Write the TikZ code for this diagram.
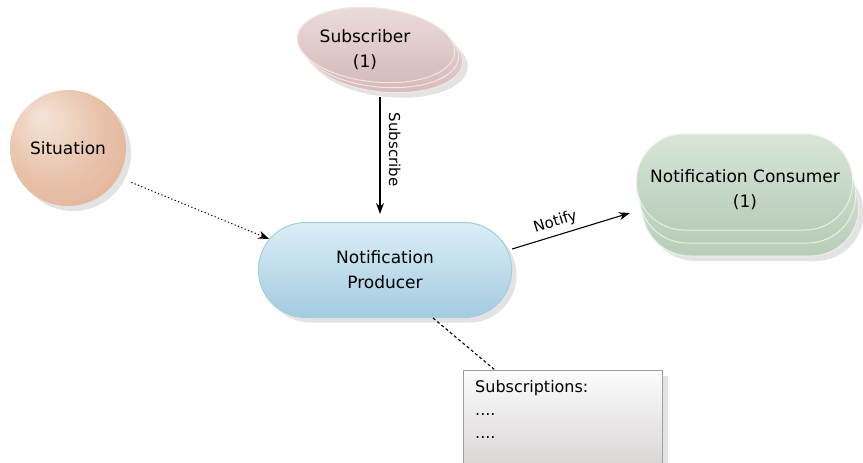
\documentclass[tikz,border=0pt]{standalone}
\usepackage{fontspec}
\setmainfont{DejaVu Sans}
\usetikzlibrary{positioning}
\usetikzlibrary{arrows.meta}
\usetikzlibrary{shapes.misc}
\usetikzlibrary{shadows}

\definecolor{sitlight}{HTML}{F4E4DA}
\definecolor{sitmid}{HTML}{E9C2AA}
\definecolor{sitdark}{HTML}{D9A586}
\definecolor{subtop}{HTML}{ECDCDC}
\definecolor{subbot}{HTML}{D6BABA}
\definecolor{subline}{HTML}{F2E6E6}
\definecolor{contop}{HTML}{D8E6D8}
\definecolor{conbot}{HTML}{B8CDB8}
\definecolor{conline}{HTML}{E8F0E8}
\definecolor{prodtop}{HTML}{DAEEF7}
\definecolor{prodbot}{HTML}{A4CBE0}
\definecolor{prodline}{HTML}{A6CCE0}
\definecolor{memotop}{HTML}{FCFCFC}
\definecolor{memobot}{HTML}{D4D0D0}
\definecolor{memoline}{HTML}{9E9C9C}

\pgfdeclareradialshading{sphereglow}{\pgfpoint{-12bp}{14bp}}{%
color(0bp)=(sitlight); color(22bp)=(sitmid); color(50bp)=(sitdark)}

\tikzset{
every node/.style={font=\fontsize{17}{25}\selectfont, align=center},
softshadow/.style={drop shadow={shadow xshift=5pt, shadow yshift=-5pt,
  opacity=.18, fill=black!60}},
sphere/.style={circle, minimum size=116pt, inner sep=0pt, shading=sphereglow,
  softshadow},
subdisc/.style={top color=subtop, bottom color=subbot, draw=subline,
  line width=1pt},
condisc/.style={rounded rectangle, minimum width=223pt, minimum height=96pt,
  top color=contop, bottom color=conbot, draw=conline, line width=1pt},
pill/.style={rounded rectangle, minimum width=260pt, minimum height=95pt,
  top color=prodtop, bottom color=prodbot, draw=prodline, line width=1pt,
  softshadow},
memo/.style={rectangle, minimum width=199pt, minimum height=110pt,
  top color=memotop, bottom color=memobot, draw=memoline, line width=1pt,
  softshadow},
edgetext/.style={font=\fontsize{15}{18}\selectfont, sloped, above=2pt},
>={Stealth[length=11pt, width=8pt]},
link/.style={->, line width=1.1pt},
dotlink/.style={->, line width=1pt, dash pattern=on 1.2pt off 2.4pt},
}

\begin{document}
\begin{tikzpicture}[x=1pt, y=-1pt]
\useasboundingbox (0,0) rectangle (863,463);

% situation
\node[sphere] (situation) at (68,148) {Situation};

% producer
\node[pill] (producer) at (385,270) {Notification\\Producer};

% subscriber stack
\path[subdisc, softshadow, shift={(8,10)}, rotate around={-6:(376,45)}]
  (376,45) ellipse [x radius=79, y radius=37];
\foreach \k in {1,0}
  \path[subdisc, shift={(4*\k,5*\k)}, rotate around={-6:(376,45)}]
    (376,45) ellipse [x radius=79, y radius=37];
\node[minimum height=94pt] (subscriber) at (365,50) {Subscriber\\(1)};

% consumer stack
\node[condisc, softshadow] (consumer-2) at (750.5,208) {};
\node[condisc] (consumer-1) at (747.5,195) {};
\node[condisc] (consumer-0) at (744.5,182) {};
\node (consumer) at (745,190) {Notification Consumer\\(1)};

% subscriptions note
\node[memo, anchor=north west] (subscriptions) at (463,370) {};
\node[anchor=north west, align=left, font=\fontsize{16}{23}\selectfont,
  inner sep=0pt] (subscriptions-list) at (475,380) {Subscriptions:\\....\\....};

% links
\draw[link] ([xshift=15pt]subscriber.south) --
  node[edgetext, pos=.45, above=5pt] {Subscribe}
  ([xshift=-5pt, yshift=8pt]producer.north);
\draw[link] ([yshift=21pt]producer.east) --
  node[edgetext, pos=.4] {Notify} ([xshift=-6pt, yshift=-31pt]consumer-0.west);
\draw[dotlink, shorten <=14pt] (situation.-30) -- (producer.165);
\draw[line width=1.1pt, dash pattern=on 3pt off 2.5pt]
  (producer.-45) -- ([xshift=32pt]subscriptions.north west);
\end{tikzpicture}
\end{document}
